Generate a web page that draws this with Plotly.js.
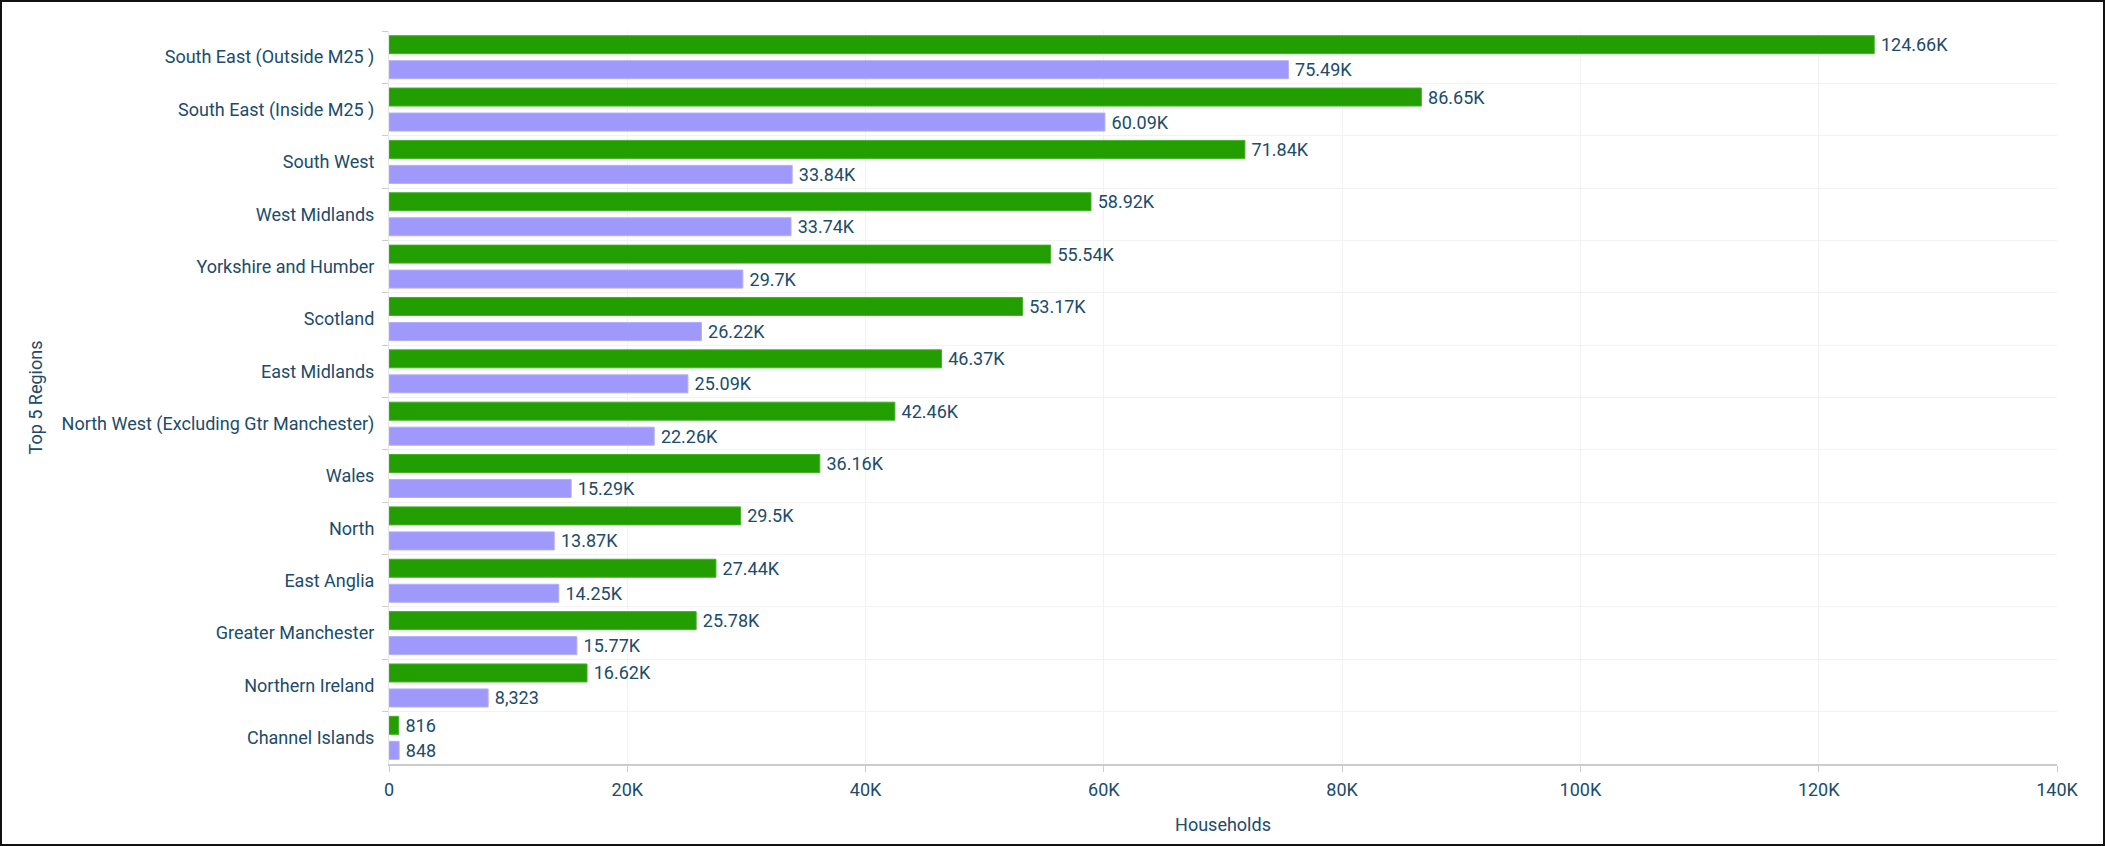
<!DOCTYPE html>
<html>
<head>
<meta charset="utf-8">
<script src="https://cdn.plot.ly/plotly-3.0.1.min.js"></script>
<style>
  html, body { margin: 0; padding: 0; background: #fff; }
  #wrap { position: relative; width: 2105px; height: 846px; }
  #myChart { width: 2105px; height: 846px; }
  #frame { position: absolute; left: 0; top: 0; width: 2105px; height: 846px;
           box-sizing: border-box; border: 2px solid #111; pointer-events: none; }
</style>
</head>
<body>
<div id="wrap">
  <div id="myChart"></div>
  <div id="frame"></div>
</div>
<script>
// regions, top to bottom as shown
var regions = [
  "South East (Outside M25 )",
  "South East (Inside M25 )",
  "South West",
  "West Midlands",
  "Yorkshire and Humber",
  "Scotland",
  "East Midlands",
  "North West (Excluding Gtr Manchester)",
  "Wales",
  "North",
  "East Anglia",
  "Greater Manchester",
  "Northern Ireland",
  "Channel Islands"
];

// green series
var greenVals = [124660, 86650, 71840, 58920, 55540, 53170, 46370, 42460, 36160, 29500, 27440, 25780, 16620, 816];
// purple series
var purpleVals = [75490, 60090, 33840, 33740, 29700, 26220, 25090, 22260, 15290, 13870, 14250, 15770, 8323, 848];

var xTicks = [0, 20000, 40000, 60000, 80000, 100000, 120000, 140000];
var xTickText = ["0", "20K", "40K", "60K", "80K", "100K", "120K", "140K"];

var textColor = "#204b6a";

// 124660 -> "124.66K", 8323 -> "8,323"
var fmt = function (v) {
  if (v >= 10000) {
    return String(Math.round(v / 10) / 100) + "K";
  }
  return v.toLocaleString("en-US");
};

var barText = function (vals) {
  return vals.map(function (v) { return "\u2009" + fmt(v); });
};

var green = {
  type: "bar",
  orientation: "h",
  y: regions,
  x: greenVals,
  text: barText(greenVals),
  textposition: "outside",
  constraintext: "none",
  cliponaxis: false,
  textfont: { family: "Roboto", size: 18, color: textColor },
  marker: { color: "#229e00", line: { color: "#45b02a", width: 1 } },
  hoverinfo: "x+y"
};

var purple = {
  type: "bar",
  orientation: "h",
  y: regions,
  x: purpleVals,
  text: barText(purpleVals),
  textposition: "outside",
  constraintext: "none",
  cliponaxis: false,
  textfont: { family: "Roboto", size: 18, color: textColor },
  marker: { color: "#9e99fb", line: { color: "#b3aefc", width: 1 } },
  hoverinfo: "x+y"
};

var layout = {
  width: 2105,
  height: 846,
  margin: { l: 389, r: 48, t: 31, b: 82 },
  paper_bgcolor: "#ffffff",
  plot_bgcolor: "#ffffff",
  showlegend: false,
  barmode: "group",
  bargap: 0.045,
  bargroupgap: 0.28,
  font: { family: "Roboto", size: 18, color: textColor },
  xaxis: {
    range: [0, 140000],
    tickvals: xTicks,
    ticktext: xTickText,
    showgrid: true,
    gridcolor: "#f2f2f2",
    gridwidth: 1,
    zeroline: false,
    showline: true,
    linecolor: "#cccccc",
    linewidth: 2,
    ticks: "outside",
    ticklen: 6,
    tickcolor: "#cccccc",
    ticklabelstandoff: 2,
    tickfont: { family: "Roboto", size: 18, color: textColor },
    title: {
      text: "Households",
      font: { family: "Roboto", size: 18, color: textColor },
      standoff: 20
    }
  },
  yaxis: {
    type: "category",
    autorange: "reversed",
    tickson: "boundaries",
    ticks: "outside",
    ticklen: 6,
    tickcolor: "#cccccc",
    ticklabelstandoff: 10,
    showgrid: true,
    gridcolor: "#f2f2f2",
    gridwidth: 1,
    showline: true,
    linecolor: "#e6e6e6",
    linewidth: 1,
    zeroline: false,
    tickfont: { family: "Roboto", size: 18, color: textColor },
    title: {
      text: "Top 5 Regions",
      font: { family: "Roboto", size: 18, color: textColor },
      standoff: 14
    }
  }
};

Plotly.newPlot("myChart", [green, purple], layout, { displayModeBar: false, staticPlot: true });
</script>
</body>
</html>
